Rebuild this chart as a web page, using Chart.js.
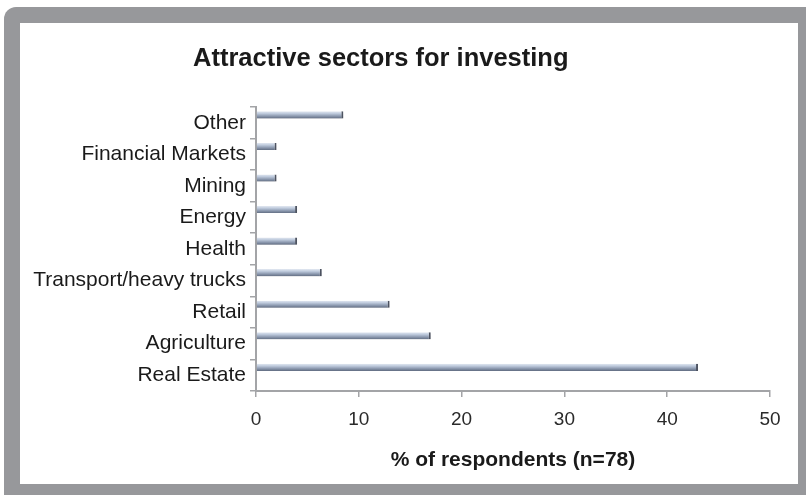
<!DOCTYPE html>
<html>
<head>
<meta charset="utf-8">
<script src="https://cdn.jsdelivr.net/npm/chart.js@4.4.1/dist/chart.umd.min.js"></script>
<style>
  html, body { margin: 0; padding: 0; background: #fff; }
  body { width: 806px; height: 495px; position: relative; overflow: hidden; font-family: "Liberation Sans", Arial, sans-serif; }
  .frame { position: absolute; left: 4px; top: 7px; right: 0; bottom: 0; background: #97989b; border-top-left-radius: 12px; }
  .panel { position: absolute; left: 20px; top: 23px; width: 778px; height: 461px; background: #fff; }
  .title { position: absolute; left: 193px; top: 43px; font-weight: bold; font-size: 25.5px; color: #1a1a1a; white-space: nowrap; }
  #myChart { position: absolute; left: 0; top: 0; }
</style>
</head>
<body>
<div class="frame"></div>
<div class="panel">
  <canvas id="myChart" width="778" height="461"></canvas>
</div>
<div class="title">Attractive sectors for investing</div>
<script>
// sectors, top to bottom as in the chart
const sectors = ['Other', 'Financial Markets', 'Mining', 'Energy', 'Health',
    'Transport/heavy trucks', 'Retail', 'Agriculture', 'Real Estate'];
const shares = [8.5, 2, 2, 4, 4, 6.4, 13, 17, 43];
const xTicks = [0, 10, 20, 30, 40, 50];

const gray = '#a3a4a7';
const font = "'Liberation Sans', Arial, sans-serif";

// vertical shading for each thin bar, placed from the y scale
function barFill(context) {
    const chart = context.chart;
    const y = chart.scales.y;
    if (!y || context.dataIndex === undefined) return '#a9b6c9';
    const p0 = y.getPixelForValue(0);
    const p1 = y.getPixelForValue(1);
    const pi = y.getPixelForValue(context.dataIndex);
    if (!isFinite(p0) || !isFinite(p1) || !isFinite(pi)) return '#a9b6c9';
    const band = Math.abs(p1 - p0);
    const mid = pi - band / 4;
    const h = band / 2 * 0.45;
    const g = chart.ctx.createLinearGradient(0, mid - h / 2, 0, mid + h / 2);
    g.addColorStop(0, '#e2e8f1');
    g.addColorStop(0.3, '#bfcbdd');
    g.addColorStop(0.65, '#8f9cb2');
    g.addColorStop(1, '#616d82');
    return g;
}

const barShadow = {
    id: 'barShadow',
    beforeDatasetsDraw(chart) {
        const c = chart.ctx;
        c.save();
        c.shadowColor = 'rgba(60,60,70,0.28)';
        c.shadowBlur = 3;
        c.shadowOffsetY = 3;
    },
    afterDatasetsDraw(chart) {
        chart.ctx.restore();
    }
};

const ctx = document.getElementById('myChart');
const myChart = new Chart(ctx, {
    type: 'bar',
    plugins: [barShadow],
    data: {
        labels: sectors,
        datasets: [{
            label: '% of respondents',
            data: shares,
            backgroundColor: barFill,
            borderColor: '#4d5361',
            borderWidth: {top: 0, bottom: 0, left: 0, right: 2},
            borderSkipped: false,
            categoryPercentage: 1.0,
            barPercentage: 0.45
        }, {
            // empty slot so the bar sits in the upper half of its row
            label: '',
            data: shares,
            backgroundColor: 'rgba(0,0,0,0)',
            borderWidth: 0,
            categoryPercentage: 1.0,
            barPercentage: 0.45
        }]
    },
    options: {
        indexAxis: 'y',
        responsive: false,
        animation: false,
        layout: {
            padding: {top: 84, right: 28, bottom: 7, left: 0}
        },
        plugins: {
            legend: {display: false},
            tooltip: {enabled: false},
            title: {display: false}
        },
        scales: {
            x: {
                min: 0,
                max: 50,
                afterBuildTicks: (scale) => {
                    scale.ticks = xTicks.map(v => ({value: v}));
                },
                grid: {
                    drawOnChartArea: false,
                    color: gray,
                    lineWidth: 1.5,
                    tickLength: 6
                },
                border: {color: gray, width: 2},
                ticks: {
                    color: '#2a2a2a',
                    padding: 11,
                    font: {family: font, size: 19}
                },
                title: {
                    display: true,
                    text: '% of respondents (n=78)',
                    color: '#1a1a1a',
                    padding: {top: 6, bottom: 4},
                    font: {family: font, size: 21, weight: 'bold'}
                }
            },
            y: {
                afterFit: (scale) => { scale.width = 236; },
                grid: {
                    drawOnChartArea: false,
                    offset: true,
                    color: gray,
                    lineWidth: 1.5,
                    tickLength: 6
                },
                border: {color: gray, width: 2},
                ticks: {
                    color: '#1a1a1a',
                    padding: 4,
                    font: {family: font, size: 21}
                }
            }
        }
    }
});
</script>
</body>
</html>
